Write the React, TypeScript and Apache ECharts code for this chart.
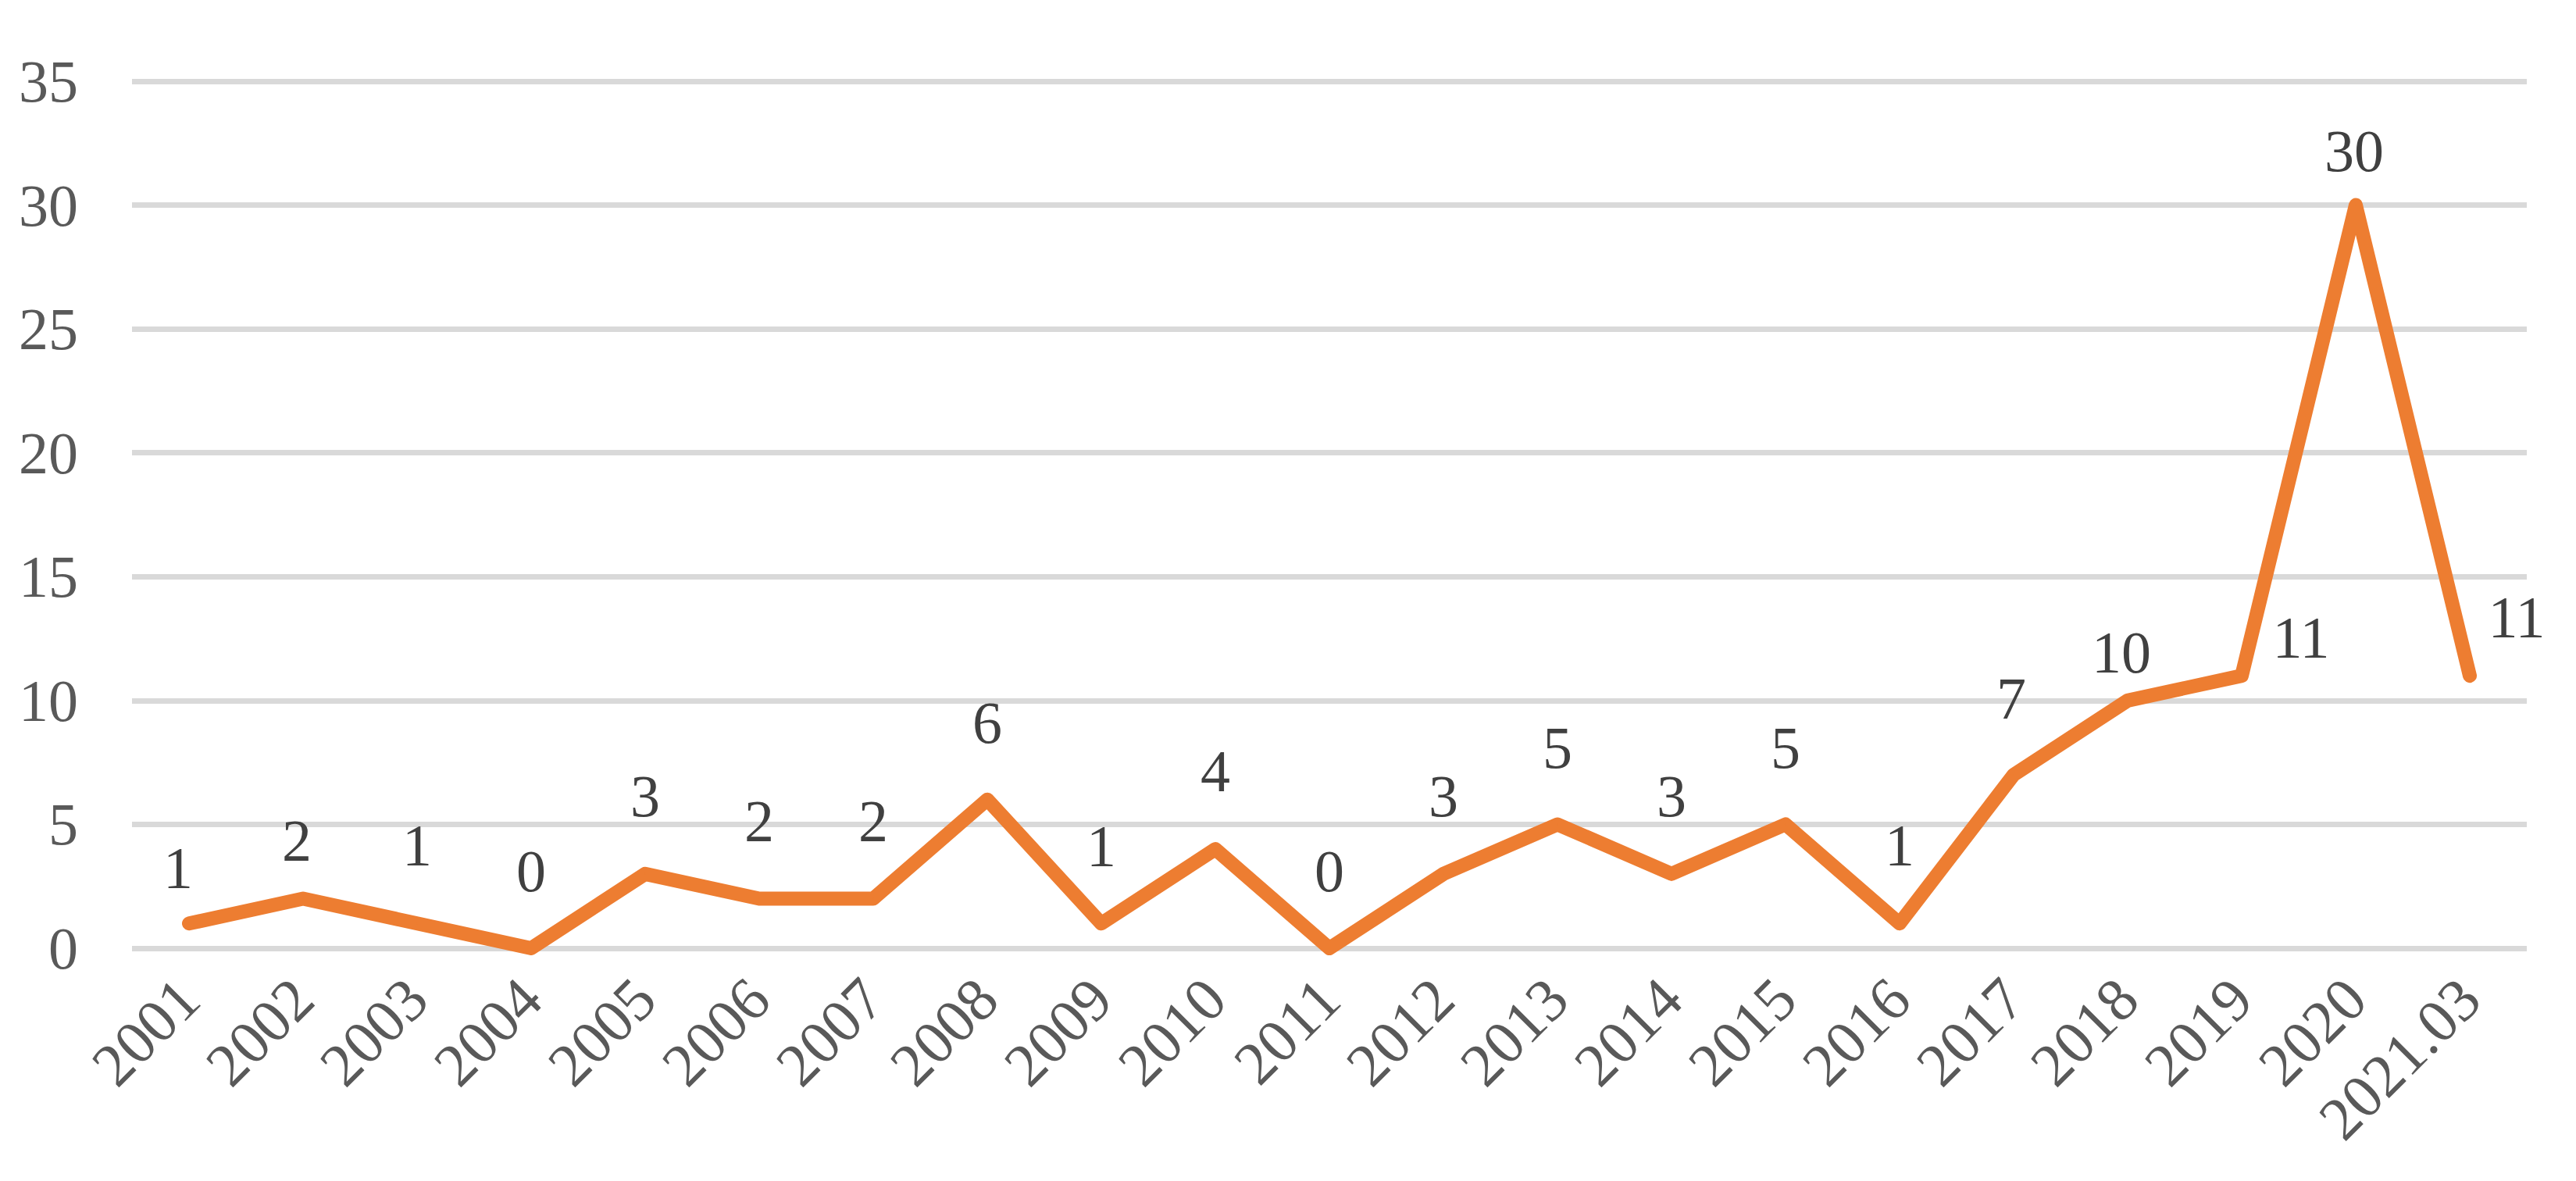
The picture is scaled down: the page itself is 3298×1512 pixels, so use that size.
import React, { useEffect, useRef } from "react";
import * as echarts from "echarts";

const categories = [
  "2001", "2002", "2003", "2004", "2005", "2006", "2007", "2008", "2009", "2010",
  "2011", "2012", "2013", "2014", "2015", "2016", "2017", "2018", "2019", "2020", "2021.03",
];
const values = [1, 2, 1, 0, 3, 2, 2, 6, 1, 4, 0, 3, 5, 3, 5, 1, 7, 10, 11, 30, 11];
// label nudges (dx, dy) relative to each point, in px
const labelNudges: [number, number][] = [
  [-14, -71], [-8, -75], [0, -100], [0, -99], [0, -100], [0, -100], [0, -100],
  [0, -99], [0, -99], [0, -100], [0, -99], [0, -100], [0, -98], [0, -100],
  [0, -98], [0, -100], [-3, -98], [-8, -62], [76, -49], [-2, -70], [60, -75],
];
const yTicks = { min: 0, max: 35, interval: 5 };

const FONT = "'Liberation Serif', 'Times New Roman', serif";

export default function App() {
  const ref = useRef<HTMLDivElement>(null);
  useEffect(() => {
    if (!ref.current) return;
    const chart = echarts.init(ref.current, null, { renderer: "svg" });
    chart.setOption({
      animation: false,
      backgroundColor: "#ffffff",
      grid: { left: 169, right: 63, top: 104, bottom: 298, containLabel: false },
      xAxis: {
        type: "category",
        data: categories,
        boundaryGap: true,
        axisLine: { show: false },
        axisTick: { show: false },
        splitLine: { show: false },
        axisLabel: {
          rotate: 45,
          interval: 0,
          margin: 52,
          fontSize: 78,
          fontFamily: FONT,
          color: "#595959",
        },
      },
      yAxis: {
        type: "value",
        min: yTicks.min,
        max: yTicks.max,
        interval: yTicks.interval,
        axisLine: { show: false },
        axisTick: { show: false },
        splitLine: { lineStyle: { color: "#D9D9D9", width: 7 } },
        axisLabel: {
          margin: 69,
          fontSize: 76,
          fontFamily: FONT,
          color: "#595959",
        },
      },
      series: [
        {
          type: "line",
          data: values,
          symbol: "circle",
          symbolSize: 2,
          showSymbol: true,
          itemStyle: { color: "#ED7D31" },
          lineStyle: { color: "#ED7D31", width: 18, cap: "round", join: "round" },
          label: {
            show: true,
            position: "inside",
            fontSize: 76,
            fontFamily: FONT,
            color: "#404040",
          },
          labelLayout: (params: any) => ({
            dx: labelNudges[params.dataIndex][0],
            dy: labelNudges[params.dataIndex][1],
            hideOverlap: false,
          }),
        },
      ],
    });
    return () => chart.dispose();
  }, []);
  return (
    <div
      ref={ref}
      style={{ position: "fixed", left: 0, top: 0, width: 3298, height: 1512 }}
    />
  );
}
